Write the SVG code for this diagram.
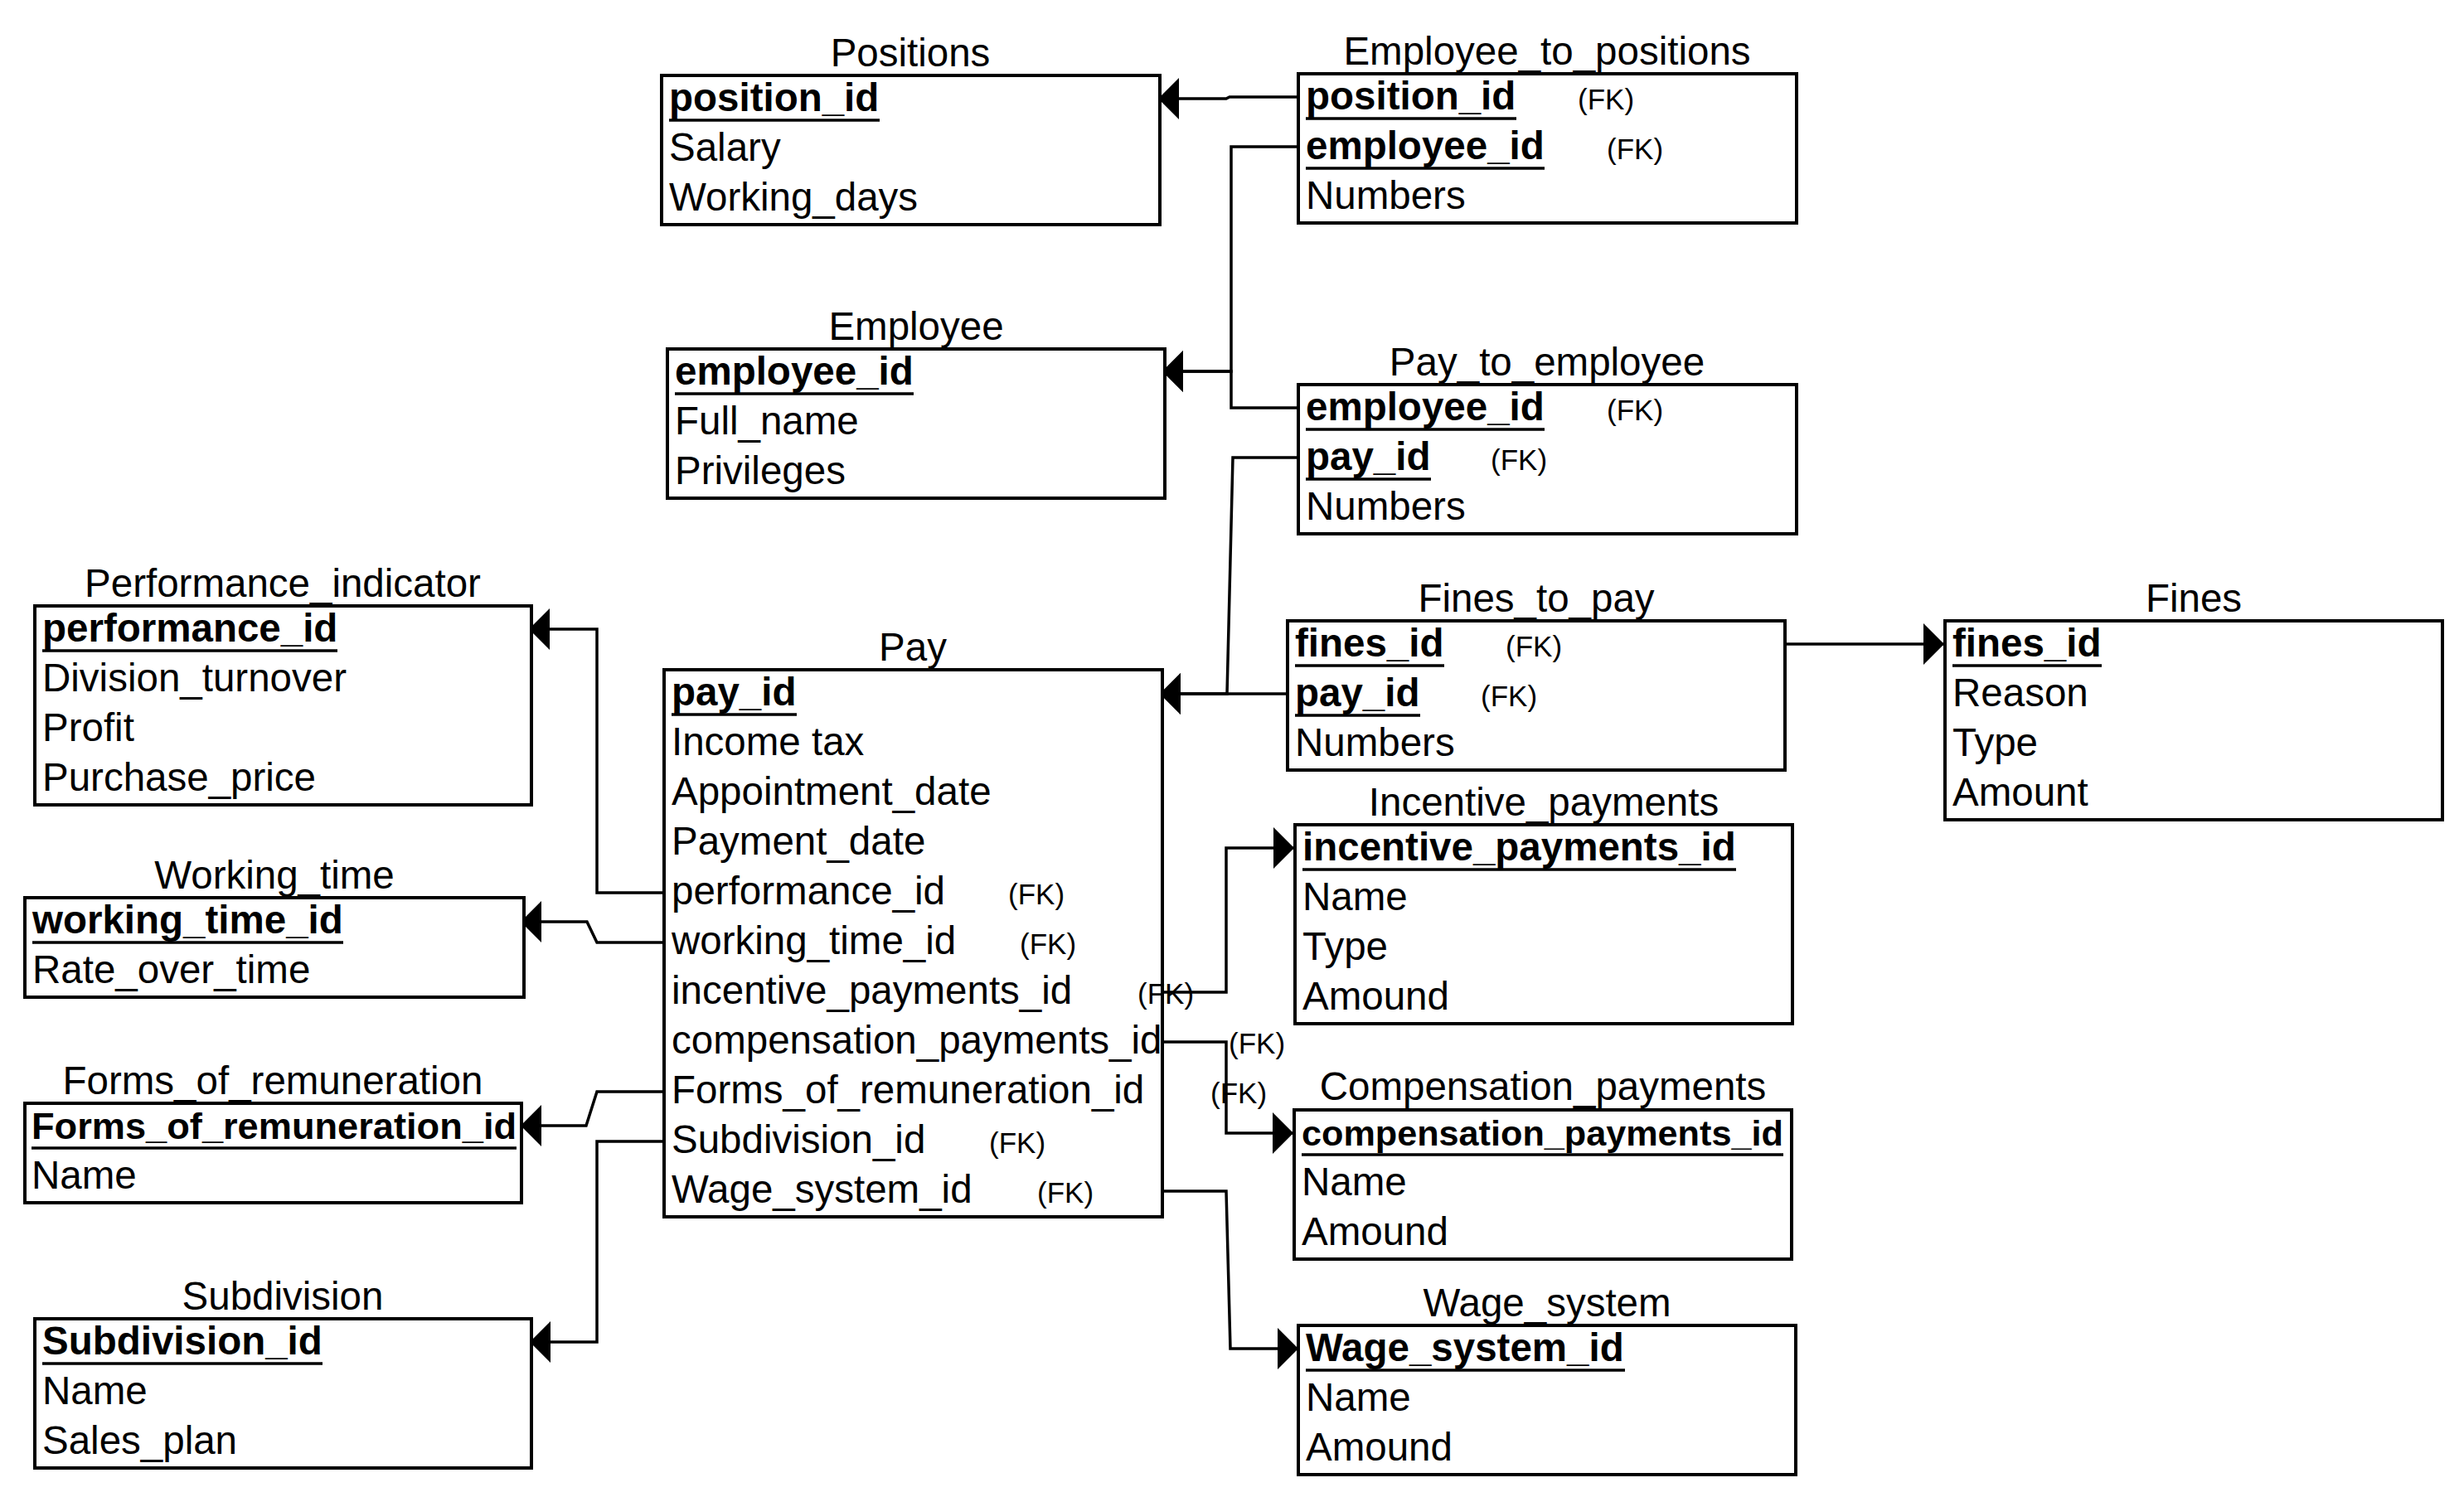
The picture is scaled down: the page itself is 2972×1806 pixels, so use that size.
<svg xmlns="http://www.w3.org/2000/svg" width="2972" height="1806" viewBox="0 0 2972 1806">
  <style>
    text { font-family: "Liberation Sans", Arial, sans-serif; fill: #000; }
    .title { font-size: 47.5px; text-anchor: middle; }
    .row { font-size: 47.5px; }
    .pk { font-size: 47.5px; font-weight: bold; }
    .fk { font-size: 35px; }
    .row, .pk, .fk, .ul { transform: translateY(2px); }
    .box { fill: #fff; stroke: #000; stroke-width: 4; }
    .ul { stroke: #000; stroke-width: 3.5; }
    .edge { fill: none; stroke: #000; stroke-width: 3.5; marker-end: url(#arrow); }
  </style>
  <defs>
    <marker id="arrow" viewBox="0 0 25 50" refX="25" refY="25" markerWidth="25" markerHeight="50" markerUnits="userSpaceOnUse" orient="auto">
      <path d="M0,0 L25,25 L0,50 Z" fill="#000"/>
    </marker>
  </defs>
  <rect width="2972" height="1806" fill="#fff"/>

  <!-- relationship lines -->
  <g id="connectors">
    <path class="edge" d="M1566,117 H1483 L1479,119 H1397"/>
    <path class="edge" d="M1566,177 H1485 V448 H1402"/>
    <path class="edge" d="M1566,492 H1485 V448 H1402"/>
    <path class="edge" d="M1566,552 H1487 L1480,837 H1399"/>
    <path class="edge" d="M1553,837 H1399"/>
    <path class="edge" d="M2153,777 H2345"/>
    <path class="edge" d="M801,1077 H720 V759 H638"/>
    <path class="edge" d="M801,1137 H720 L708,1112 H628"/>
    <path class="edge" d="M1402,1197 H1479 V1023 H1561"/>
    <path class="edge" d="M1402,1257 H1479 V1367 H1560"/>
    <path class="edge" d="M801,1317 H720 L707,1358 H628"/>
    <path class="edge" d="M801,1377 H720 V1619 H639"/>
    <path class="edge" d="M1402,1437 H1479 L1484,1627 H1566"/>
  </g>

  <g id="positions">
    <text class="title" x="1098" y="80">Positions</text>
    <rect class="box" x="798" y="91" width="601" height="180"/>
    <text class="pk" x="807" y="132">position_id</text>
    <line class="ul" x1="807" y1="143" x2="1061" y2="143"/>
    <text class="row" x="807" y="192">Salary</text>
    <text class="row" x="807" y="252">Working_days</text>
  </g>

  <g id="employee_to_positions">
    <text class="title" x="1866" y="78">Employee_to_positions</text>
    <rect class="box" x="1566" y="89" width="601" height="180"/>
    <text class="pk" x="1575" y="130">position_id</text>
    <line class="ul" x1="1575" y1="141" x2="1829" y2="141"/>
    <text class="fk" x="1903" y="130">(FK)</text>
    <text class="pk" x="1575" y="190">employee_id</text>
    <line class="ul" x1="1575" y1="201" x2="1863" y2="201"/>
    <text class="fk" x="1938" y="190">(FK)</text>
    <text class="row" x="1575" y="250">Numbers</text>
  </g>

  <g id="employee">
    <text class="title" x="1105" y="410">Employee</text>
    <rect class="box" x="805" y="421" width="600" height="180"/>
    <text class="pk" x="814" y="462">employee_id</text>
    <line class="ul" x1="814" y1="473" x2="1102" y2="473"/>
    <text class="row" x="814" y="522">Full_name</text>
    <text class="row" x="814" y="582">Privileges</text>
  </g>

  <g id="pay_to_employee">
    <text class="title" x="1866" y="453">Pay_to_employee</text>
    <rect class="box" x="1566" y="464" width="601" height="180"/>
    <text class="pk" x="1575" y="505">employee_id</text>
    <line class="ul" x1="1575" y1="516" x2="1863" y2="516"/>
    <text class="fk" x="1938" y="505">(FK)</text>
    <text class="pk" x="1575" y="565">pay_id</text>
    <line class="ul" x1="1575" y1="576" x2="1726" y2="576"/>
    <text class="fk" x="1798" y="565">(FK)</text>
    <text class="row" x="1575" y="625">Numbers</text>
  </g>

  <g id="performance_indicator">
    <text class="title" x="341" y="720">Performance_indicator</text>
    <rect class="box" x="42" y="731" width="599" height="240"/>
    <text class="pk" x="51" y="772">performance_id</text>
    <line class="ul" x1="51" y1="783" x2="407" y2="783"/>
    <text class="row" x="51" y="832">Division_turnover</text>
    <text class="row" x="51" y="892">Profit</text>
    <text class="row" x="51" y="952">Purchase_price</text>
  </g>

  <g id="pay">
    <text class="title" x="1101" y="797">Pay</text>
    <rect class="box" x="801" y="808" width="601" height="660"/>
    <text class="pk" x="810" y="849">pay_id</text>
    <line class="ul" x1="810" y1="860" x2="961" y2="860"/>
    <text class="row" x="810" y="909">Income tax</text>
    <text class="row" x="810" y="969">Appointment_date</text>
    <text class="row" x="810" y="1029">Payment_date</text>
    <text class="row" x="810" y="1089">performance_id</text>
    <text class="fk" x="1216" y="1089">(FK)</text>
    <text class="row" x="810" y="1149">working_time_id</text>
    <text class="fk" x="1230" y="1149">(FK)</text>
    <text class="row" x="810" y="1209">incentive_payments_id</text>
    <text class="fk" x="1372" y="1209">(FK)</text>
    <text class="row" x="810" y="1269">compensation_payments_id</text>
    <text class="fk" x="1482" y="1269">(FK)</text>
    <text class="row" x="810" y="1329">Forms_of_remuneration_id</text>
    <text class="fk" x="1460" y="1329">(FK)</text>
    <text class="row" x="810" y="1389">Subdivision_id</text>
    <text class="fk" x="1193" y="1389">(FK)</text>
    <text class="row" x="810" y="1449">Wage_system_id</text>
    <text class="fk" x="1251" y="1449">(FK)</text>
  </g>

  <g id="fines_to_pay">
    <text class="title" x="1853" y="738">Fines_to_pay</text>
    <rect class="box" x="1553" y="749" width="600" height="180"/>
    <text class="pk" x="1562" y="790">fines_id</text>
    <line class="ul" x1="1562" y1="801" x2="1742" y2="801"/>
    <text class="fk" x="1816" y="790">(FK)</text>
    <text class="pk" x="1562" y="850">pay_id</text>
    <line class="ul" x1="1562" y1="861" x2="1713" y2="861"/>
    <text class="fk" x="1786" y="850">(FK)</text>
    <text class="row" x="1562" y="910">Numbers</text>
  </g>

  <g id="fines">
    <text class="title" x="2646" y="738">Fines</text>
    <rect class="box" x="2346" y="749" width="600" height="240"/>
    <text class="pk" x="2355" y="790">fines_id</text>
    <line class="ul" x1="2355" y1="801" x2="2535" y2="801"/>
    <text class="row" x="2355" y="850">Reason</text>
    <text class="row" x="2355" y="910">Type</text>
    <text class="row" x="2355" y="970">Amount</text>
  </g>

  <g id="working_time">
    <text class="title" x="331" y="1072">Working_time</text>
    <rect class="box" x="30" y="1083" width="602" height="120"/>
    <text class="pk" x="39" y="1124">working_time_id</text>
    <line class="ul" x1="39" y1="1135" x2="414" y2="1135"/>
    <text class="row" x="39" y="1184">Rate_over_time</text>
  </g>

  <g id="incentive_payments">
    <text class="title" x="1862" y="984">Incentive_payments</text>
    <rect class="box" x="1562" y="995" width="600" height="240"/>
    <text class="pk" x="1571" y="1036">incentive_payments_id</text>
    <line class="ul" x1="1571" y1="1047" x2="2094" y2="1047"/>
    <text class="row" x="1571" y="1096">Name</text>
    <text class="row" x="1571" y="1156">Type</text>
    <text class="row" x="1571" y="1216">Amound</text>
  </g>

  <g id="compensation_payments">
    <text class="title" x="1861" y="1327">Compensation_payments</text>
    <rect class="box" x="1561" y="1339" width="600" height="180"/>
    <text class="pk" x="1570" y="1380" style="font-size:43.2px">compensation_payments_id</text>
    <line class="ul" x1="1570" y1="1391" x2="2151" y2="1391"/>
    <text class="row" x="1570" y="1440">Name</text>
    <text class="row" x="1570" y="1500">Amound</text>
  </g>

  <g id="forms_of_remuneration">
    <text class="title" x="329" y="1320">Forms_of_remuneration</text>
    <rect class="box" x="30" y="1331" width="599" height="120"/>
    <text class="pk" x="38" y="1372" style="font-size:45.2px">Forms_of_remuneration_id</text>
    <line class="ul" x1="38" y1="1383" x2="623" y2="1383"/>
    <text class="row" x="38" y="1432">Name</text>
  </g>

  <g id="subdivision">
    <text class="title" x="341" y="1580">Subdivision</text>
    <rect class="box" x="42" y="1591" width="599" height="180"/>
    <text class="pk" x="51" y="1632">Subdivision_id</text>
    <line class="ul" x1="51" y1="1643" x2="389" y2="1643"/>
    <text class="row" x="51" y="1692">Name</text>
    <text class="row" x="51" y="1752">Sales_plan</text>
  </g>

  <g id="wage_system">
    <text class="title" x="1866" y="1588">Wage_system</text>
    <rect class="box" x="1566" y="1599" width="600" height="180"/>
    <text class="pk" x="1575" y="1640">Wage_system_id</text>
    <line class="ul" x1="1575" y1="1651" x2="1960" y2="1651"/>
    <text class="row" x="1575" y="1700">Name</text>
    <text class="row" x="1575" y="1760">Amound</text>
  </g>
</svg>
